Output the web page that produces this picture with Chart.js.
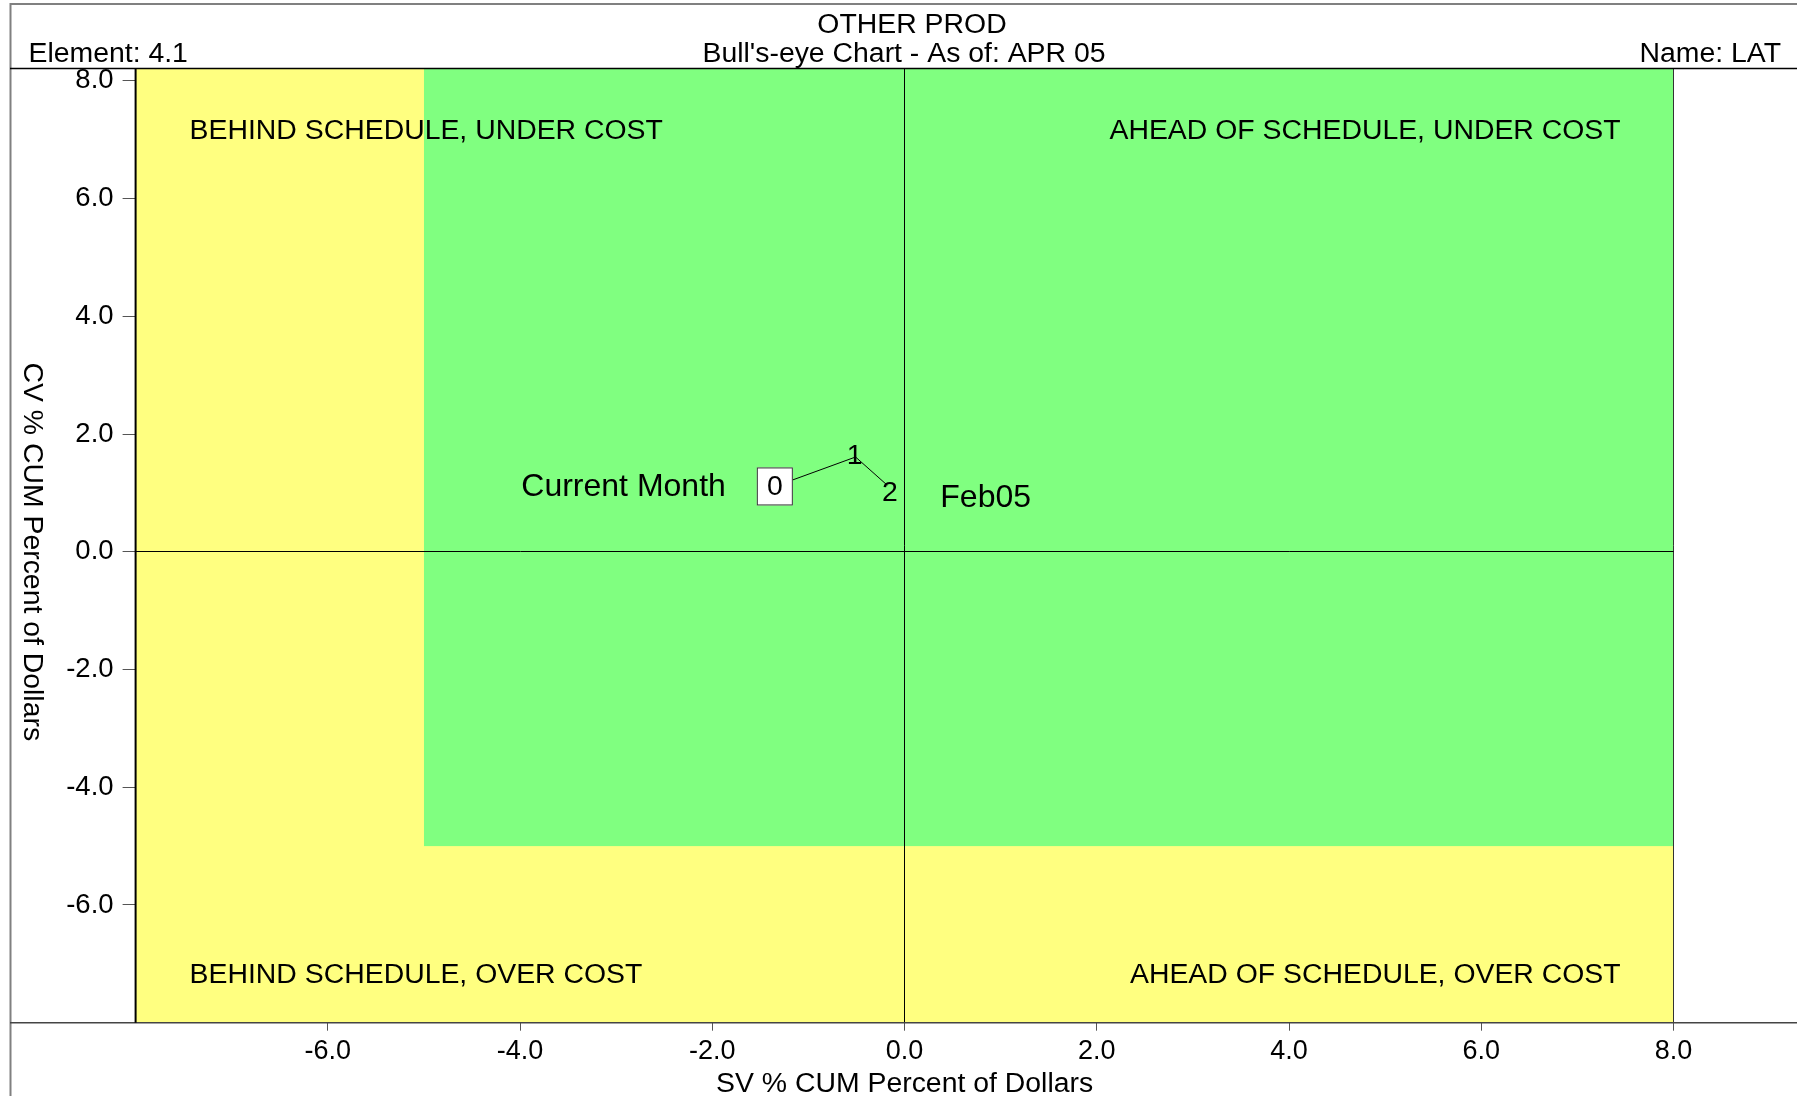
<!DOCTYPE html>
<html><head><meta charset="utf-8">
<script src="https://cdn.jsdelivr.net/npm/chart.js@4/dist/chart.umd.min.js"></script>
<style>html,body{margin:0;padding:0;background:#fff;overflow:hidden}#wrap{width:1797px;height:1096px;position:relative}</style>
</head><body><div id="wrap"><canvas id="c" width="1797" height="1096"></canvas></div>
<script>
// ---- data ----
const pointLabels = ['0', '1', '2'];
const svValues = [-1.35, -0.51, -0.18];
const cvValues = [1.11, 1.61, 1.13];
const xTickValues = [-6, -4, -2, 0, 2, 4, 6, 8];
const yTickValues = [-6, -4, -2, 0, 2, 4, 6, 8];
const xRange = [-8, 8];
const yRange = [-8, 8.21];
const yellowZoneX = [-8, 8];
const yellowZoneY = [-8, 8.21];
const greenZoneX = [-5, 8];
const greenZoneY = [-5, 8.21];
const headerTitle = 'OTHER PROD';
const headerSubtitle = "Bull's-eye Chart - As of: APR 05";
const headerLeft = 'Element: 4.1';
const headerRight = 'Name: LAT';
const quadrantTopLeft = 'BEHIND SCHEDULE, UNDER COST';
const quadrantTopRight = 'AHEAD OF SCHEDULE, UNDER COST';
const quadrantBottomLeft = 'BEHIND SCHEDULE, OVER COST';
const quadrantBottomRight = 'AHEAD OF SCHEDULE, OVER COST';
const xAxisTitle = 'SV % CUM Percent of Dollars';
const yAxisTitle = 'CV % CUM Percent of Dollars';
const currentMonthLabel = 'Current Month';
const firstMonthLabel = 'Feb05';

const FONT = "'Liberation Sans', Arial, Helvetica, sans-serif";
const TXT = '28.4px ' + FONT;
const W = 1797, H = 1096;
const AREA = {left: 135.6, right: 1673.6, top: 68.5, bottom: 1022.7};

const decor = {
  id: 'decor',
  beforeDraw(chart) {
    const ctx = chart.ctx, xs = chart.scales.x, ys = chart.scales.y;
    function rect(xr, yr, col) {
      const x0 = xs.getPixelForValue(xr[0]), x1 = xs.getPixelForValue(xr[1]);
      const y0 = ys.getPixelForValue(yr[1]), y1 = ys.getPixelForValue(yr[0]);
      ctx.fillStyle = col;
      ctx.fillRect(x0, y0, x1 - x0, y1 - y0);
    }
    ctx.save();
    ctx.fillStyle = '#fff';
    ctx.fillRect(0, 0, W, H);
    rect(yellowZoneX, yellowZoneY, '#ffff80');
    rect(greenZoneX, greenZoneY, '#80ff80');
    ctx.restore();
  },
  afterDraw(chart) {
    const ctx = chart.ctx, xs = chart.scales.x, ys = chart.scales.y, ca = chart.chartArea;
    ctx.save();
    // frame
    ctx.strokeStyle = '#808080'; ctx.lineWidth = 2;
    ctx.beginPath(); ctx.moveTo(10, 4); ctx.lineTo(W, 4); ctx.stroke();
    ctx.beginPath(); ctx.moveTo(10.5, 3); ctx.lineTo(10.5, H); ctx.stroke();
    ctx.strokeStyle = '#000'; ctx.lineWidth = 1.5;
    ctx.beginPath(); ctx.moveTo(10, ca.top); ctx.lineTo(W, ca.top); ctx.stroke();
    ctx.strokeStyle = '#444'; ctx.lineWidth = 1.5;
    ctx.beginPath(); ctx.moveTo(10, ca.bottom); ctx.lineTo(W, ca.bottom); ctx.stroke();
    // left plot border
    ctx.strokeStyle = '#000'; ctx.lineWidth = 2;
    ctx.beginPath(); ctx.moveTo(ca.left, ca.top); ctx.lineTo(ca.left, ca.bottom); ctx.stroke();

    ctx.fillStyle = '#000';
    ctx.font = TXT;
    ctx.textBaseline = 'alphabetic';
    ctx.textAlign = 'center';
    ctx.fillText(headerTitle, 912, 33);
    ctx.fillText(headerSubtitle, 904, 61.5);
    ctx.textAlign = 'left';
    ctx.fillText(headerLeft, 28.5, 61.5);
    ctx.textAlign = 'right';
    ctx.fillText(headerRight, 1781, 61.5);

    // quadrant labels
    ctx.textAlign = 'left';
    ctx.fillText(quadrantTopLeft, ca.left + 54, ca.top + 70);
    ctx.fillText(quadrantBottomLeft, ca.left + 54, ca.bottom - 40);
    ctx.textAlign = 'right';
    ctx.fillText(quadrantTopRight, ca.right - 53, ca.top + 70);
    ctx.fillText(quadrantBottomRight, ca.right - 53, ca.bottom - 40);

    // axis titles
    ctx.textAlign = 'center';
    ctx.fillText(xAxisTitle, (ca.left + ca.right) / 2, 1092);
    ctx.save();
    ctx.translate(24, ys.getPixelForValue(0));
    ctx.rotate(Math.PI / 2);
    ctx.textAlign = 'center';
    ctx.textBaseline = 'alphabetic';
    ctx.fillText(yAxisTitle, 0, 0);
    ctx.restore();

    // point labels
    const px = svValues.map(v => xs.getPixelForValue(v));
    const py = cvValues.map(v => ys.getPixelForValue(v));
    const offs = [[0, 0], [-1, -2], [2.5, 6.5]];
    ctx.textAlign = 'center'; ctx.textBaseline = 'middle';
    for (let i = 0; i < pointLabels.length; i++) {
      const cx = px[i] + offs[i][0], cy = py[i] + offs[i][1];
      if (i === 0) {
        ctx.fillStyle = '#fff';
        ctx.fillRect(cx - 18, cy - 19, 36, 38);
        ctx.strokeStyle = '#333'; ctx.lineWidth = 1;
        ctx.strokeRect(cx - 18 + 0.5, cy - 19 + 0.5, 35, 37);
        ctx.fillStyle = '#000';
      }
      ctx.fillText(pointLabels[i], cx, cy + 1);
    }
    ctx.font = '32px ' + FONT;
    ctx.textBaseline = 'alphabetic';
    ctx.textAlign = 'right';
    ctx.fillText(currentMonthLabel, px[0] - 49, py[0] + 10);
    ctx.textAlign = 'left';
    const last = pointLabels.length - 1;
    ctx.fillText(firstMonthLabel, px[last] + 53, py[last] + 22);
    ctx.restore();
  }
};

const lineColor = (ctx) => (ctx.tick && (ctx.tick.value === 0)) ? '#000' : (ctx.tick && ctx.tick.value === xRange[1] ? '#333' : 'rgba(0,0,0,0)');

new Chart(document.getElementById('c'), {
  type: 'scatter',
  data: {
    datasets: [{
      data: svValues.map((x, i) => ({x: x, y: cvValues[i]})),
      showLine: true,
      borderColor: '#000',
      borderWidth: 1,
      pointRadius: 0,
      tension: 0
    }]
  },
  options: {
    responsive: false,
    animation: false,
    events: [],
    layout: {padding: {left: 0, top: AREA.top, right: W - AREA.right, bottom: 0}},
    plugins: {legend: {display: false}, tooltip: {enabled: false}, title: {display: false}},
    scales: {
      x: {
        type: 'linear', min: xRange[0], max: xRange[1],
        afterBuildTicks: s => { s.ticks = xTickValues.map(v => ({value: v})); },
        afterFit: s => { s.height = H - AREA.bottom; },
        grid: {color: lineColor, lineWidth: 1, drawTicks: true, tickLength: 8, tickColor: '#555', tickWidth: 1},
        border: {display: false},
        ticks: {font: {family: FONT, size: 27}, color: '#000', padding: 5, maxRotation: 0, autoSkip: false,
          callback: v => Number(v).toFixed(1)}
      },
      y: {
        type: 'linear', min: yRange[0], max: yRange[1],
        afterBuildTicks: s => { s.ticks = yTickValues.map(v => ({value: v})); },
        afterFit: s => { s.width = AREA.left; },
        grid: {color: (ctx) => (ctx.tick && ctx.tick.value === 0) ? '#000' : 'rgba(0,0,0,0)', lineWidth: 1, drawTicks: true, tickLength: 13, tickColor: '#555', tickWidth: 1},
        border: {display: false},
        ticks: {font: {family: FONT, size: 27.5}, color: '#000', padding: 9, autoSkip: false,
          callback: v => Number(v).toFixed(1)}
      }
    }
  },
  plugins: [decor]
});
</script></body></html>
